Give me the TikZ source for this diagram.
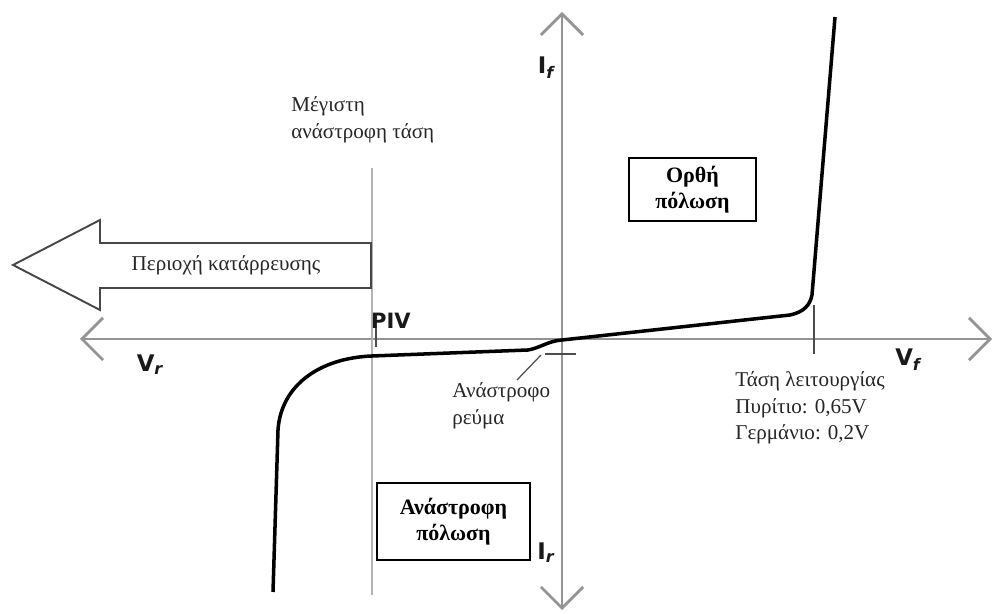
\documentclass[tikz,border=0pt]{standalone}
\usepackage{fontspec}
\setmainfont{Liberation Serif}
\newfontfamily\lblfont{DejaVu Sans}
\usetikzlibrary{arrows.meta,positioning}

\tikzset{
  axis/.style={draw=black!42,line width=1.6pt},
  barbs/.style={{Straight Barb[length=12pt,width=24pt]}-{Straight Barb[length=12pt,width=24pt]}},
  guide/.style={draw=black!30,line width=1.1pt},
  curve/.style={draw=black,line width=2pt,line join=round},
  tickmark/.style={draw=black!70,line width=1pt},
  note/.style={font=\fontsize{12}{15.3}\selectfont,inner sep=0pt,align=left,text=black!85},
  polbox/.style={draw=black,line width=0.9pt,font=\fontsize{12.5}{14.5}\selectfont\bfseries,align=center,inner sep=0pt},
  lbl/.style={font=\lblfont\bfseries\fontsize{13}{13}\selectfont,inner sep=0pt,text=black!90}
}

\begin{document}
\begin{tikzpicture}[x=0.02cm,y=-0.02cm]
  \useasboundingbox (0,0) rectangle (994,614);
  \coordinate (vl) at (80,339);
  \coordinate (vr) at (992,339);
  \coordinate (ib) at (562,610);
  \coordinate (it) at (562,12);
  \draw[axis,barbs] (vl) -- (vr);
  \draw[axis,barbs] (ib) -- (it);
  \coordinate (pivtop) at (372,168);
  \coordinate (pivbot) at (372,595);
  \draw[guide] (pivtop) -- (pivbot);
  \draw[draw=black!72,line width=1.1pt,fill=white]
      (371,243) -- (100,243) -- (100,220) -- (13,265) -- (100,310) -- (100,288) -- (371,288) -- cycle;
  \node[note] (breakdown) at (226,265) {Περιοχή κατάρρευσης};
  \draw[curve] (273,592) -- (278,430) .. controls (281,385) and (320,358) .. (372,356)
      -- (528,350) .. controls (540,348) and (548,341) .. (562,340)
      -- (790,315) .. controls (804,312) and (810,305) .. (812,295) -- (835,17);
  \draw[tickmark] (376,328) -- (376,347);
  \draw[tickmark] (814,305) -- (814,354);
  \draw[tickmark] (545,354) -- (576,354);
  \node[note,anchor=north west] (maxrev) at (291,96) {Μέγιστη\\ανάστροφη τάση};
  \node[note,anchor=north west] (revcur) at (452,382) {Ανάστροφο\\ρεύμα};
  \coordinate (revfoot) at (517,380);
  \coordinate (revtick) at (541,355);
  \draw[tickmark,line width=0.7pt] (revfoot) -- (revtick);
  \node[note,anchor=north west] (oper) at (735,371) {Τάση λειτουργίας\\Πυρίτιο: 0,65V\\Γερμάνιο: 0,2V};
  \node[polbox,minimum width=2.54cm,minimum height=1.26cm] (fwd) at (692.5,189.5) {Ορθή\\πόλωση};
  \node[polbox,minimum width=3.06cm,minimum height=1.54cm] (rev) at (453.5,521.5) {Ανάστροφη\\πόλωση};
  \node[lbl,font=\lblfont\bfseries\fontsize{12}{12}\selectfont] (piv) at (391,321) {PIV};
  \node[lbl] (ifl) at (546,68) {I\textsubscript{\itshape f}};
  \node[lbl] (irl) at (546,553) {I\textsubscript{\itshape r}};
  \node[lbl] (vfl) at (908,360) {V\textsubscript{\itshape f}};
  \node[lbl] (vrl) at (150,365) {V\textsubscript{\itshape r}};
\end{tikzpicture}
\end{document}
